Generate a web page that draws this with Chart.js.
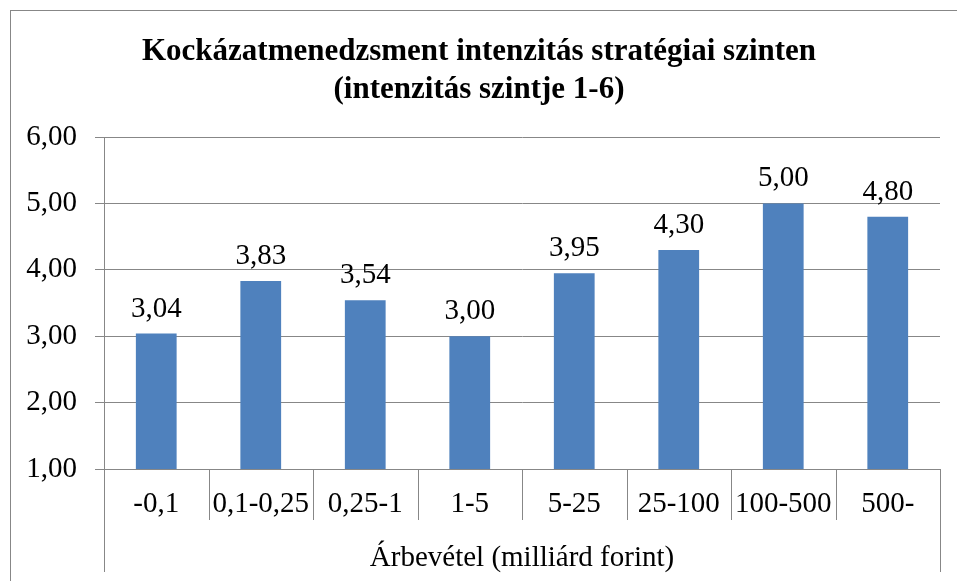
<!DOCTYPE html>
<html lang="hu">
<head>
<meta charset="utf-8">
<title>Kockázatmenedzsment intenzitás</title>
<script src="https://cdn.jsdelivr.net/npm/chart.js@4.4.1/dist/chart.umd.min.js"></script>
<style>
    html, body { margin: 0; padding: 0; background: #fff; }
    #wrap { width: 957px; height: 581px; position: relative; }
</style>
</head>
<body>
<div id="wrap"><canvas id="chart" width="957" height="581"></canvas></div>
<script>
// adatok
const categories = ['-0,1', '0,1-0,25', '0,25-1', '1-5', '5-25', '25-100', '100-500', '500-'];
const intensity = [3.04, 3.83, 3.54, 3.00, 3.95, 4.30, 5.00, 4.80];
const titleLines = ['Kockázatmenedzsment intenzitás stratégiai szinten', '(intenzitás szintje 1-6)'];
const axisTitle = 'Árbevétel (milliárd forint)';

const SERIF = "'Liberation Serif', 'Times New Roman', serif";
const LINE = '#878787';
const TEXT_SIZE = 29;
const fmt = v => v.toFixed(2).replace('.', ',');

// keret, elválasztók, értékcímkék
const decorations = {
    id: 'decorations',
    beforeDraw(chart) {
        const ctx = chart.ctx;
        ctx.save();
        ctx.fillStyle = '#fff';
        ctx.fillRect(0, 0, chart.width, chart.height);
        ctx.restore();
    },
    afterDatasetsDraw(chart) {
        const ctx = chart.ctx;
        const meta = chart.getDatasetMeta(0);
        ctx.save();
        ctx.font = TEXT_SIZE + 'px ' + SERIF;
        ctx.fillStyle = '#000';
        ctx.textAlign = 'center';
        ctx.textBaseline = 'alphabetic';
        meta.data.forEach((bar, i) => {
            ctx.fillText(fmt(intensity[i]), bar.x, bar.y - 17);
        });
        ctx.restore();
    },
    afterDraw(chart) {
        const ctx = chart.ctx;
        const area = chart.chartArea;
        const x = chart.scales.x;
        const half = (x.getPixelForValue(1) - x.getPixelForValue(0)) / 2;

        ctx.save();
        ctx.strokeStyle = LINE;
        ctx.lineWidth = 1;

        // kategória elválasztók
        ctx.beginPath();
        for (let i = 0; i <= categories.length; i++) {
            const px = Math.round(x.getPixelForValue(0) - half + i * 2 * half) + 0.5;
            const bottom = (i === 0 || i === categories.length) ? 572 : area.bottom + 51;
            ctx.moveTo(px, area.bottom);
            ctx.lineTo(px, bottom);
        }
        ctx.stroke();

        // tengelycím
        ctx.font = TEXT_SIZE + 'px ' + SERIF;
        ctx.fillStyle = '#000';
        ctx.textAlign = 'center';
        ctx.textBaseline = 'alphabetic';
        ctx.fillText(axisTitle, (area.left + area.right) / 2, 566);

        // külső keret
        ctx.strokeRect(10.5, 10.5, 980, 620);
        ctx.restore();
    }
};

new Chart(document.getElementById('chart'), {
    type: 'bar',
    data: {
        labels: categories,
        datasets: [{
            data: intensity,
            backgroundColor: '#4F81BD',
            borderWidth: 0,
            categoryPercentage: 1,
            barPercentage: 0.39
        }]
    },
    options: {
        responsive: false,
        animation: false,
        layout: { padding: { top: 10, left: 18, right: 17, bottom: 0 } },
        plugins: {
            legend: { display: false },
            tooltip: { enabled: false },
            title: {
                display: true,
                text: titleLines,
                color: '#000',
                font: { family: SERIF, size: 31, weight: 'bold', lineHeight: 1.226 },
                padding: { top: 23, bottom: 28 }
            }
        },
        scales: {
            y: {
                min: 1,
                max: 6,
                ticks: {
                    stepSize: 1,
                    color: '#000',
                    font: { family: SERIF, size: TEXT_SIZE },
                    padding: 18,
                    callback: v => fmt(v)
                },
                grid: { color: LINE, tickLength: 9, tickColor: LINE },
                border: { color: LINE },
                afterFit(scale) { scale.width = 86; }
            },
            x: {
                ticks: {
                    color: '#000',
                    font: { family: SERIF, size: TEXT_SIZE },
                    padding: 10,
                    maxRotation: 0,
                    autoSkip: false
                },
                grid: { display: false },
                border: { color: LINE },
                afterFit(scale) { scale.height = 112; }
            }
        }
    },
    plugins: [decorations]
});
</script>
</body>
</html>
